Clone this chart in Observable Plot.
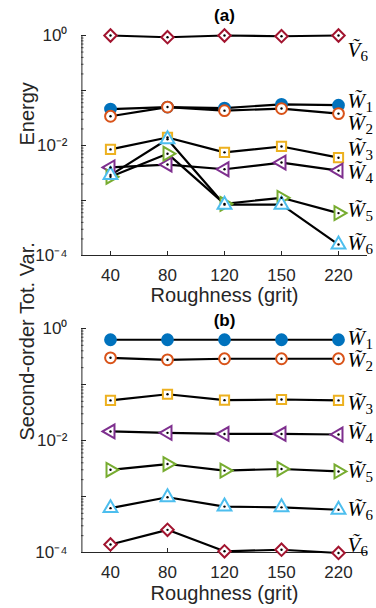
<!DOCTYPE html>
<html><head><meta charset="utf-8">
<script src="https://cdn.jsdelivr.net/npm/d3@7"></script>
<script src="https://cdn.jsdelivr.net/npm/@observablehq/plot@0.6"></script>
<style>
body{margin:0;background:#fff;}
#chart{width:376px;height:608px;position:relative;overflow:hidden;}
#chart svg{display:block;overflow:visible;}
</style></head><body><div id="chart"></div>
<script>
// categories
const grit = ["40","80","120","150","220"];
const series = ["W1","W2","W3","W4","W5","W6","V6"];
const colors = ["#0072BD","#D95319","#EDB120","#7E2F8E","#77AC30","#4DBEEE","#A2142F"];
const symbols = ["circle","circle","square","triangle2","triangle2","triangle2","diamond2"];
const rotations = [0,0,0,-90,90,0,0];
const filled = [true,false,false,false,false,false,false];
const labelBase = ["W\u0303","W\u0303","W\u0303","W\u0303","W\u0303","W\u0303","V\u0303"];
const labelSub = ["1","2","3","4","5","6","6"];

// (a) Energy
const energyW1 = [0.046,0.050,0.048,0.056,0.054];
const energyW2 = [0.034,0.050,0.043,0.047,0.038];
const energyW3 = [0.0085,0.014,0.0075,0.0096,0.0060];
const energyW4 = [0.0040,0.0045,0.0037,0.0049,0.0035];
const energyW5 = [0.0027,0.0071,0.00087,0.00112,0.00059];
const energyW6 = [0.0029,0.013,0.00084,0.00084,0.000158];
const energyV6 = [1.0,0.93,1.0,0.97,1.0];
const energyLabelAt = [0.064,0.025,0.0086,0.0033,0.00066,0.000166,0.53];

// (b) Second-order total variation
const tvW1 = [0.63,0.63,0.63,0.63,0.63];
const tvW2 = [0.30,0.276,0.288,0.288,0.288];
const tvW3 = [0.052,0.067,0.0525,0.054,0.052];
const tvW4 = [0.0145,0.0137,0.0131,0.0131,0.0128];
const tvW5 = [0.0030,0.0038,0.0029,0.0031,0.0028];
const tvW6 = [0.00062,0.00097,0.00066,0.00064,0.00058];
const tvV6 = [0.000139,0.000254,0.000105,0.000112,0.000098];
const tvLabelAt = [0.66,0.27,0.046,0.0139,0.0028,0.00059,0.000133];

// axis ticks
const yTickLabels = {"1":"10⁰","0.01":"10⁻²","0.0001":"10⁻⁴"};
const yLabeled = [1, 1e-2, 1e-4];

const AX = "#262626";
const SERIF = "'Liberation Serif', 'Times New Roman', serif";
function panel({values, labelAt, title, ylabel, marginTop, marginBottom, titleDy, xlabDy}) {
  const W = 376, H = 304, mL = 81, mR = 9;
  const innerW = W - mL - mR, innerH = H - marginTop - marginBottom;
  const step = innerW / grit.length;
  const rows = [];
  series.forEach((s, i) => values[i].forEach((v, j) => rows.push({s, i, grit: grit[j], v})));
  const labels = series.map((s, i) => ({s, i, v: labelAt[i], base: labelBase[i], sub: labelSub[i]}));
  const wLabels = labels.filter(d => d.s[0] === "W");
  const vLabels = labels.filter(d => d.s[0] === "V");
  const lastX = () => grit[grit.length - 1];
  const minor = [];
  for (let e = -4; e < 0; e++) for (let k = 2; k <= 9; k++) minor.push(k * 10 ** e);
  const major = [1e-4, 1e-3, 1e-2, 1e-1, 1];
  const sizes = {circle: 5.4, square: 5.2, triangle2: 6.6, diamond2: 5.6};
  const dotMarks = series.map((s, i) => Plot.dot(rows.filter(d => d.i === i), {
    x: "grit", y: "v", symbol: symbols[i], r: sizes[symbols[i]],
    stroke: colors[i], strokeWidth: 2, fill: filled[i] ? colors[i] : "white", rotate: rotations[i]
  }));
  const labelMarks = (data, subDx) => [
    Plot.text(data, {x: lastX, y: "v", text: "base", textAnchor: "start", dx: 9, fontFamily: SERIF, fontStyle: "italic", fontSize: 21, fill: "black"}),
    Plot.text(data, {x: lastX, y: "v", text: "sub", textAnchor: "start", dx: subDx, dy: 6, fontFamily: SERIF, fontSize: 15, fill: "black"})
  ];
  return Plot.plot({
    width: W, height: H, marginLeft: mL, marginRight: mR, marginTop, marginBottom,
    style: {fontFamily: "'Liberation Sans', Arial, sans-serif", color: AX, background: "transparent", overflow: "visible"},
    x: {type: "point", domain: grit, padding: 0.5},
    y: {type: "log", domain: [1e-4, 1]},
    marks: [
      Plot.ruleY(minor, {y: d => d, stroke: AX, strokeWidth: 0.8, insetRight: innerW - 2.5}),
      Plot.ruleY(major, {y: d => d, stroke: AX, insetRight: innerW - 5}),
      Plot.ruleX(grit, {x: d => d, stroke: AX, insetTop: innerH - 4}),
      Plot.ruleY([1e-4], {y: d => d, stroke: AX}),
      Plot.ruleX([grit[0]], {x: d => d, dx: -step / 2, stroke: AX}),
      Plot.axisY({ticks: yLabeled, tickSize: 0, tickPadding: 14, tickFormat: d => yTickLabels[String(d)], fontSize: 17, label: null, fill: AX}),
      Plot.axisX({tickSize: 0, tickPadding: 13, fontSize: 17, label: null, fill: AX}),
      Plot.text([ylabel], {frameAnchor: "left", rotate: -90, dx: -54, fontSize: 20, fill: AX}),
      Plot.text(["Roughness (grit)"], {frameAnchor: "bottom", lineAnchor: "middle", dy: xlabDy, fontSize: 20, fill: AX}),
      Plot.text([title], {frameAnchor: "top", lineAnchor: "middle", dy: titleDy, fontSize: 17, fontWeight: "bold", fill: "black"}),
      Plot.line(rows, {x: "grit", y: "v", z: "s", stroke: "black", strokeWidth: 2.2}),
      ...dotMarks,
      Plot.dot(rows.filter(d => !filled[d.i]), {x: "grit", y: "v", r: 1.2, fill: "black"}),
      ...labelMarks(wLabels, 27),
      ...labelMarks(vLabels, 22)
    ]
  });
}

function build() {
  const root = document.getElementById("chart");
  const a = panel({values: [energyW1, energyW2, energyW3, energyW4, energyW5, energyW6, energyV6], labelAt: energyLabelAt,
    title: "(a)", ylabel: "Energy", marginTop: 35, marginBottom: 49, titleDy: -20, xlabDy: 40});
  const b = panel({values: [tvW1, tvW2, tvW3, tvW4, tvW5, tvW6, tvV6], labelAt: tvLabelAt,
    title: "(b)", ylabel: "Second-order Tot. Var.", marginTop: 24, marginBottom: 56, titleDy: -8, xlabDy: 41});
  root.append(a, b);
}
build();
</script>
</body></html>
